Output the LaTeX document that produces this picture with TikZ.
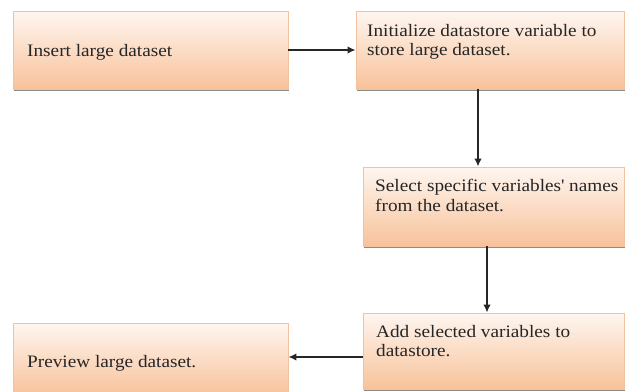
\documentclass[tikz,border=0pt]{standalone}
\usepackage{fontspec}
\setmainfont{Liberation Serif}[FakeStretch=1.1]
\usetikzlibrary{arrows.meta,shadows}
\definecolor{boxtop}{HTML}{FEF6F0}
\definecolor{boxbot}{HTML}{F8C29A}
\definecolor{boxedge}{HTML}{F2C29F}
\definecolor{ink}{HTML}{262626}
\tikzset{
  stepbox/.style={rectangle, draw=boxedge, line width=0.8pt,
    top color=boxtop, bottom color=boxbot,
    drop shadow={shadow xshift=0.8pt, shadow yshift=-1.8pt, fill=black!60, opacity=0.75},
    inner sep=0pt},
  steptext/.style={anchor=north west, inner sep=0pt, align=left, text=ink,
    font=\fontsize{17.5pt}{19.5pt}\selectfont},
  flow/.style={draw=ink, line width=1.7pt, -{Latex[length=8pt,width=7.5pt]}}
}
\begin{document}
\begin{tikzpicture}[x=1pt, y=-1pt]
  \useasboundingbox (0,0) rectangle (626,391);
  \fill[white] (0,0) rectangle (626,391);

  % process boxes
  \node[stepbox, minimum width=275pt, minimum height=78pt] (b1) at (150.5,50) {};
  \node[stepbox, minimum width=268pt, minimum height=78pt] (b2) at (490,50) {};
  \node[stepbox, minimum width=261pt, minimum height=79pt] (b3) at (493.5,206.5) {};
  \node[stepbox, minimum width=261pt, minimum height=76pt] (b4) at (493.5,351) {};
  \node[stepbox, minimum width=275pt, minimum height=72pt] (b5) at (150.5,359) {};

  % labels
  \node[steptext] (t1) at (27,44) {Insert large dataset};
  \node[steptext] (t2) at (367,24) {Initialize datastore variable to\\store large dataset.};
  \node[steptext] (t3) at (375,179) {Select specific variables\textquotesingle{} names\\from the dataset.};
  \node[steptext] (t4) at (376,325) {Add selected variables to\\datastore.};
  \node[steptext] (t5) at (27,355) {Preview large dataset.};

  % connectors
  \draw[flow] (b1.east) -- (b2.west);
  \draw[flow] ([xshift=-12pt]b2.south) -- ([xshift=-12pt]b2.south |- b3.north);
  \draw[flow] ([xshift=-6.5pt]b3.south) -- ([xshift=-6.5pt]b3.south |- b4.north);
  \draw[flow] ([yshift=-6pt]b4.west) -- ([yshift=-6pt]b4.west -| b5.east);
\end{tikzpicture}
\end{document}
